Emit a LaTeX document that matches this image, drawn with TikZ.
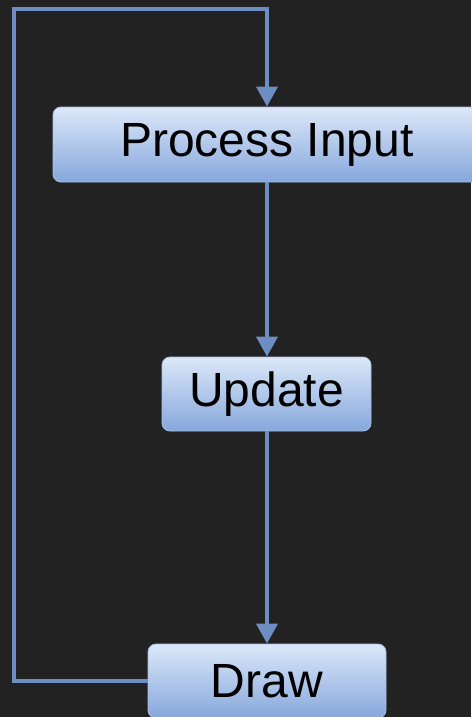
\documentclass[tikz,border=0pt]{standalone}
\usepackage{fontspec}
\setmainfont{Liberation Sans}
\usetikzlibrary{arrows.meta,shadings}
\definecolor{bg}{HTML}{222222}
\definecolor{linec}{HTML}{6C8EC2}
\definecolor{boxtop}{HTML}{DCE8F9}
\definecolor{boxbot}{HTML}{86A7DC}
\definecolor{boxline}{HTML}{A8C0E4}
\tikzset{
  procbox/.style={draw=boxline, line width=0.8pt, rounded corners=8pt,
    top color=boxtop, bottom color=boxbot, text=black,
    font=\fontsize{48}{50}\selectfont, inner sep=0pt, anchor=center},
  conn/.style={draw=linec, line width=3.8pt},
  arr/.style={conn, -{Triangle[width=21pt,length=20pt]}}
}
\begin{document}
\begin{tikzpicture}[x=1pt,y=-1pt]
\fill[bg] (0,0) rectangle (471,717);
\useasboundingbox (0,0) rectangle (471,717);
\node[procbox, minimum width=428pt, minimum height=75pt] (proc) at (267,144.5) {Process Input};
\node[procbox, minimum width=209pt, minimum height=74pt] (upd) at (266.5,394) {Update};
\node[procbox, minimum width=238pt, minimum height=74pt] (drw) at (267,681) {Draw};
\coordinate (c1) at (14,681);
\coordinate (c2) at (14,9);
\coordinate (c3) at (267,9);
\draw[arr] (proc.south -| 267,0) -- (upd.north -| 267,0);
\draw[arr] (upd.south -| 267,0) -- (drw.north -| 267,0);
\draw[arr] (drw.west) -- (c1) -- (c2) -- (c3) -- (proc.north -| c3);
\end{tikzpicture}
\end{document}
